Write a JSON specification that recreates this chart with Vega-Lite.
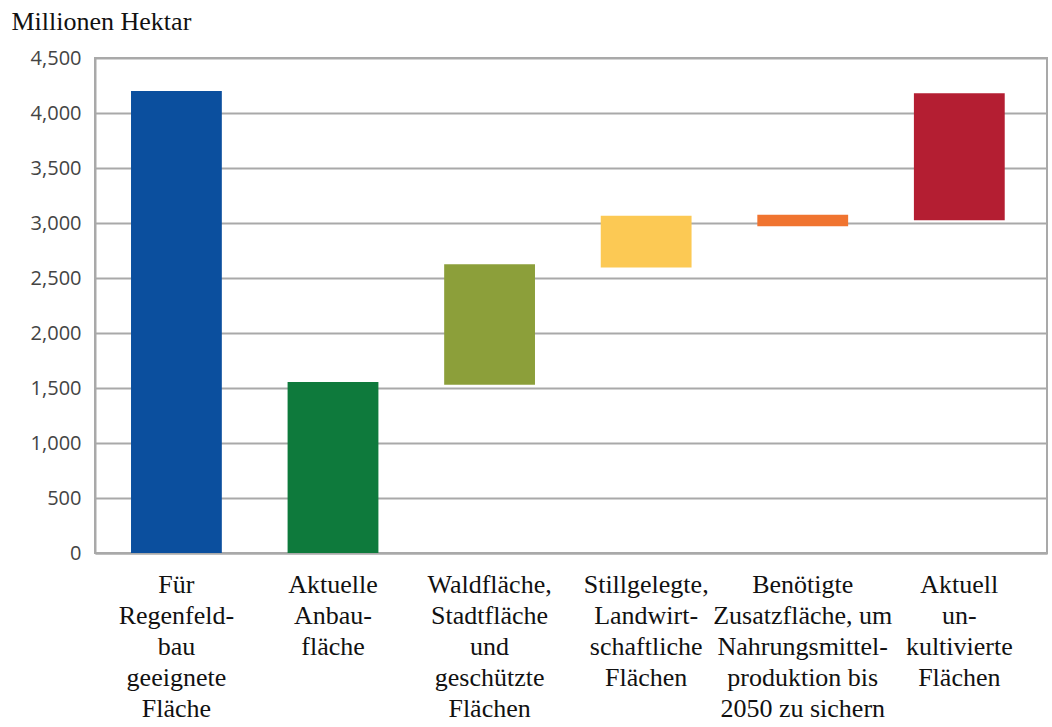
{
  "$schema": "https://vega.github.io/schema/vega-lite/v6.json",
  "width": 952,
  "height": 495,
  "autosize": {"type": "none"},
  "padding": {"left": 95, "top": 58, "right": 5, "bottom": 174},
  "background": "white",
  "config": {
    "view": {"stroke": "#a9a9a9", "strokeWidth": 2}
  },
  "data": {
    "values": [
      {"kategorie": "Für\nRegenfeld-\nbau\ngeeignete\nFläche", "von": 0, "bis": 4200, "farbe": "#0B4F9E"},
      {"kategorie": "Aktuelle\nAnbau-\nfläche", "von": 0, "bis": 1555, "farbe": "#0E7A3C"},
      {"kategorie": "Waldfläche,\nStadtfläche\nund\ngeschützte\nFlächen", "von": 1530, "bis": 2625, "farbe": "#8C9F3A"},
      {"kategorie": "Stillgelegte,\nLandwirt-\nschaftliche\nFlächen", "von": 2595, "bis": 3065, "farbe": "#FCC954"},
      {"kategorie": "Benötigte\nZusatzfläche, um\nNahrungsmittel-\nproduktion bis\n2050 zu sichern", "von": 2970, "bis": 3075, "farbe": "#F07430"},
      {"kategorie": "Aktuell\nun-\nkultivierte\nFlächen", "von": 3025, "bis": 4180, "farbe": "#B41E32"}
    ]
  },
  "mark": {"type": "bar"},
  "encoding": {
    "x": {
      "field": "kategorie",
      "type": "nominal",
      "sort": null,
      "scale": {"paddingInner": 0.42, "paddingOuter": 0.25, "align": 0.46},
      "axis": {
        "title": null,
        "labelAngle": 0,
        "labelExpr": "split(datum.label, '\\n')",
        "labelFont": "Liberation Serif",
        "labelFontSize": 26,
        "labelColor": "#111111",
        "labelLineHeight": 31,
        "labelPadding": 18,
        "labelLimit": 300,
        "ticks": false,
        "domainColor": "#a9a9a9",
        "domainWidth": 2,
        "grid": false
      }
    },
    "y": {
      "field": "von",
      "type": "quantitative",
      "scale": {"domain": [0, 4500], "nice": false},
      "axis": {
        "values": [0, 500, 1000, 1500, 2000, 2500, 3000, 3500, 4000, 4500],
        "format": ",d",
        "title": "Millionen Hektar",
        "titleAngle": 0,
        "titleAlign": "left",
        "titleBaseline": "alphabetic",
        "titleX": -84,
        "titleY": -29,
        "titleFont": "Liberation Serif",
        "titleFontSize": 26,
        "titleFontWeight": "normal",
        "titleColor": "#111111",
        "labelFont": "Open Sans",
        "labelFontSize": 20,
        "labelColor": "#444444",
        "labelPadding": 14,
        "ticks": false,
        "domainColor": "#a9a9a9",
        "domainWidth": 2,
        "gridColor": "#a9a9a9",
        "gridWidth": 2
      }
    },
    "y2": {"field": "bis"},
    "color": {"field": "farbe", "type": "nominal", "scale": null, "legend": null}
  }
}
